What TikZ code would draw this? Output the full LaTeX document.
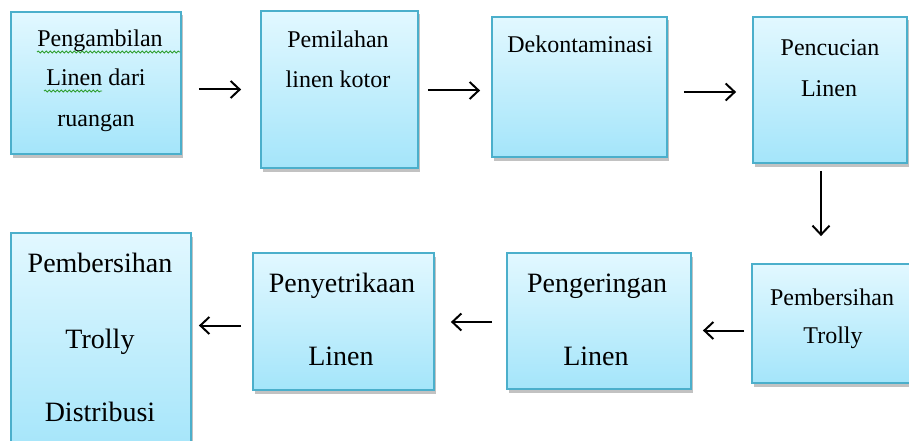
\documentclass[tikz,border=0pt]{standalone}
\usepackage{fontspec}
\setmainfont{Liberation Serif}
\usetikzlibrary{arrows.meta,shadows,decorations.pathmorphing}
\definecolor{boxline}{HTML}{4BAFCB}
\definecolor{boxtop}{HTML}{E2F8FF}
\definecolor{boxbot}{HTML}{A4E5FA}
\definecolor{squig}{HTML}{2E9E2E}
\tikzset{
  flowbox/.style={draw=boxline, line width=1.8pt, top color=boxtop, bottom color=boxbot,
    drop shadow={shadow xshift=1.5pt, shadow yshift=-3.5pt, opacity=0.4, fill=black!60},
    inner sep=0pt},
  toptxt/.style={anchor=base, font=\fontsize{24}{24}\selectfont, inner sep=0pt},
  bigtxt/.style={anchor=base, font=\fontsize{28}{28}\selectfont, inner sep=0pt},
  arr/.style={line width=2pt, -{Straight Barb[length=9pt,width=17pt,line width=2pt]}},
  spell/.style={draw=squig, line width=0.9pt, decorate, decoration={snake, amplitude=0.9pt, segment length=4pt}}
}
\begin{document}
\begin{tikzpicture}[x=1pt,y=-1pt]
\useasboundingbox (0,0) rectangle (909,441);
\clip (0,0) rectangle (909,441);
% boxes
\node[flowbox, minimum width=170pt, minimum height=142pt] (b1) at (96,83) {};
\node[flowbox, minimum width=157pt, minimum height=157pt] (b2) at (339.5,89.5) {};
\node[flowbox, minimum width=175pt, minimum height=140pt] (b3) at (579.5,87) {};
\node[flowbox, minimum width=154pt, minimum height=146pt] (b4) at (830,90) {};
\node[flowbox, minimum width=162pt, minimum height=119pt] (b5) at (833,323.5) {};
\node[flowbox, minimum width=184pt, minimum height=136pt] (b6) at (599,321) {};
\node[flowbox, minimum width=181pt, minimum height=137pt] (b7) at (343.5,321.5) {};
\node[flowbox, minimum width=180pt, minimum height=220pt] (b8) at (101,343) {};
% texts
\node[toptxt] (t1a) at (100,47) {Pengambilan};
\node[toptxt] (t1b) at (96,86) {Linen dari};
\node[toptxt] (t1c) at (96,126) {ruangan};
\draw[spell] (37,52) -- (180,52);
\draw[spell] (44,91) -- (102,91);
\node[toptxt] (t2a) at (338,48) {Pemilahan};
\node[toptxt] (t2b) at (338,88) {linen kotor};
\node[toptxt] (t3a) at (580,53) {Dekontaminasi};
\node[toptxt] (t4a) at (830,56) {Pencucian};
\node[toptxt] (t4b) at (829,97) {Linen};
\node[toptxt] (t5a) at (832,305) {Pembersihan};
\node[toptxt] (t5b) at (833,343) {Trolly};
\node[bigtxt] (t6a) at (597,292) {Pengeringan};
\node[bigtxt] (t6b) at (596,365) {Linen};
\node[bigtxt] (t7a) at (342,292) {Penyetrikaan};
\node[bigtxt] (t7b) at (341,365) {Linen};
\node[bigtxt] (t8a) at (100,272) {Pembersihan};
\node[bigtxt] (t8b) at (100,348) {Trolly};
\node[bigtxt] (t8c) at (100,421) {Distribusi};
% connectors
\draw[arr, shorten <=17pt, shorten >=19pt] (b1.east |- b2.west) -- (b2.west);
\draw[arr, shorten <=9pt, shorten >=11pt] ([yshift=-1pt]b2.east) -- ([yshift=-1pt]b2.east -| b3.west);
\draw[arr, shorten <=16pt, shorten >=16pt] ([yshift=-2pt]b3.east |- b4.west) -- ([yshift=-2pt]b4.west);
\draw[arr, shorten <=7pt, shorten >=27pt] ([xshift=-9pt]b4.south) -- ([xshift=-9pt]b4.south |- b5.north);
\draw[arr, shorten <=7pt, shorten >=11pt] ([yshift=-7pt]b5.west) -- ([yshift=-7pt]b5.west -| b6.east);
\draw[arr, shorten <=14pt, shorten >=16pt] ([yshift=-1pt]b6.west) -- ([yshift=-1pt]b6.west -| b7.east);
\draw[arr, shorten <=11pt, shorten >=7pt] ([yshift=-4pt]b7.west) -- ([yshift=-4pt]b7.west -| b8.east);
\end{tikzpicture}
\end{document}
